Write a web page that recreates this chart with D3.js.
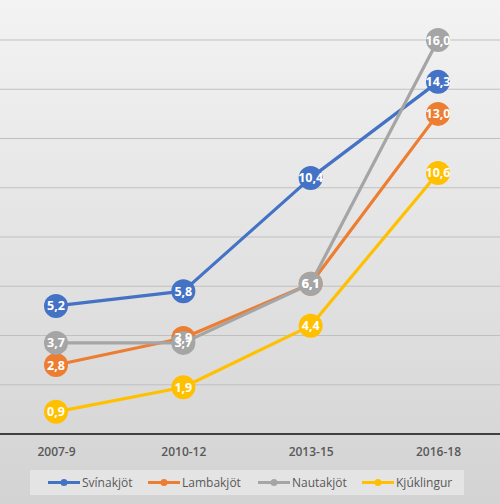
<!DOCTYPE html>
<html><head><meta charset="utf-8">
<script src="https://cdn.jsdelivr.net/npm/d3@7"></script>
<style>html,body{margin:0;padding:0;overflow:hidden}svg{display:block}</style>
</head><body>
<script>
const categories = ["2007-9", "2010-12", "2013-15", "2016-18"];
const seriesNames = ["Svínakjöt", "Lambakjöt", "Nautakjöt", "Kjúklingur"];
const svinakjot = [5.2, 5.8, 10.4, 14.3];
const lambakjot = [2.8, 3.9, 6.1, 13.0];
const nautakjot = [3.7, 3.7, 6.1, 16.0];
const kjuklingur = [0.9, 1.9, 4.4, 10.6];
const yTicks = [0, 2, 4, 6, 8, 10, 12, 14, 16];
const colors = ["#4472C4", "#ED7D31", "#A5A5A5", "#FFC000"];

const series = [svinakjot, lambakjot, nautakjot, kjuklingur].map((v, i) => ({name: seriesNames[i], values: v, color: colors[i]}));

const W = 500, H = 504;
const svg = d3.select("body").append("svg").attr("width", W).attr("height", H);
const defs = svg.append("defs");
const g = defs.append("linearGradient").attr("id", "bg").attr("x1", 0).attr("y1", 0).attr("x2", 0).attr("y2", 1);
g.append("stop").attr("offset", "0%").attr("stop-color", "#f3f3f3");
g.append("stop").attr("offset", "100%").attr("stop-color", "#d3d3d3");
svg.append("rect").attr("width", W).attr("height", H).attr("fill", "url(#bg)");

const x = d3.scalePoint().domain(categories).range([56, 438]);
const y = d3.scaleLinear().domain([0, 16]).range([434, 40]);

// gridlines
svg.append("g").selectAll("line").data(yTicks.slice(1)).join("line")
  .attr("x1", 0).attr("x2", W).attr("y1", d => y(d)).attr("y2", d => y(d))
  .attr("stroke", "#c0c0c0").attr("stroke-width", 1.2);

// x axis
const xAxis = svg.append("g").attr("transform", `translate(0,${y(0)})`)
  .call(d3.axisBottom(x).tickSize(0).tickPadding(13));
xAxis.select(".domain").remove();
xAxis.append("line").attr("x1", 0).attr("x2", W).attr("stroke", "#404040").attr("stroke-width", 2);
xAxis.selectAll("text").attr("font-family", "'Open Sans', sans-serif").attr("font-size", 12)
  .attr("font-weight", 600).attr("fill", "#595959");

const line = d3.line().x((d, i) => x(categories[i])).y(d => y(d));

const gs = svg.append("g");
series.forEach(s => {
  gs.append("path").datum(s.values).attr("d", line).attr("fill", "none")
    .attr("stroke", s.color).attr("stroke-width", 3.2).attr("stroke-linejoin", "round");
  gs.selectAll(null).data(s.values).join("circle")
    .attr("cx", (d, i) => x(categories[i])).attr("cy", d => y(d)).attr("r", 12)
    .attr("fill", s.color);
});
const fmt = d => d.toFixed(1).replace(".", ",");
series.forEach(s => {
  gs.selectAll(null).data(s.values).join("text")
    .attr("x", (d, i) => x(categories[i])).attr("y", d => y(d)).attr("dy", "0.36em")
    .attr("text-anchor", "middle").attr("font-family", "'Open Sans', sans-serif")
    .attr("font-size", 12.5).attr("font-weight", 700).attr("fill", "#fff")
    .text(fmt);
});

// legend
const lg = svg.append("g");
lg.append("rect").attr("x", 30).attr("y", 470).attr("width", 434).attr("height", 25).attr("fill", "#e4e4e4");
const legX = [48, 148, 258, 362];
series.forEach((s, i) => {
  const item = lg.append("g").attr("transform", `translate(${legX[i]},482.5)`);
  item.append("line").attr("x1", 0).attr("x2", 32).attr("stroke", s.color).attr("stroke-width", 3);
  item.append("circle").attr("cx", 16).attr("r", 3.5).attr("fill", s.color);
  item.append("text").attr("x", 34).attr("dy", "0.35em").attr("font-family", "'Open Sans', sans-serif")
    .attr("font-size", 12).attr("fill", "#595959").text(s.name);
});
</script>
</body></html>
